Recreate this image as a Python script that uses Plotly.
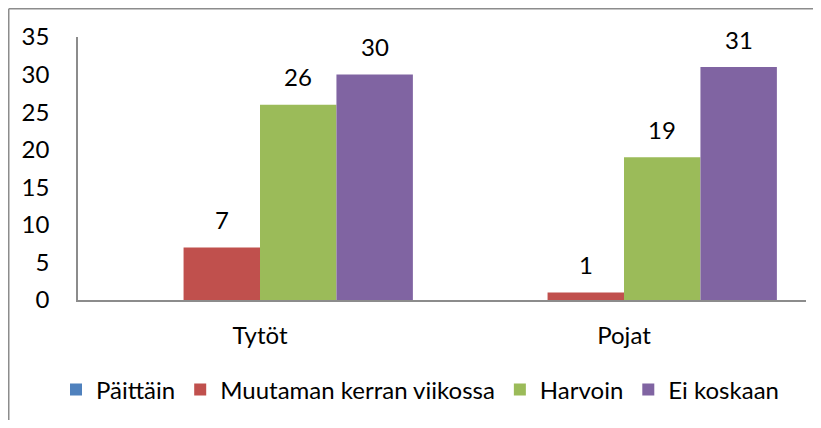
import plotly.graph_objects as go

categories = ["Tytöt", "Pojat"]
series_names = ["Päittäin", "Muutaman kerran viikossa", "Harvoin", "Ei koskaan"]
paittain = [0, 0]
muutaman = [7, 1]
harvoin = [26, 19]
ei_koskaan = [30, 31]
y_ticks = [0, 5, 10, 15, 20, 25, 30, 35]

colors = ["#4F81BD", "#C0504D", "#9BBB59", "#8064A2"]
values = [paittain, muutaman, harvoin, ei_koskaan]
FONT = "Lato, 'Open Sans', sans-serif"
FS = 24

bargap = 0.16
n = len(series_names)
w = (1 - bargap) / n
xpos = list(range(len(categories)))

fig = go.Figure()
annotations = []
for i, (name, vals, col) in enumerate(zip(series_names, values, colors)):
    fig.add_trace(go.Bar(name=name, x=xpos, y=vals, marker=dict(color=col, line=dict(width=0))))
    off = -(1 - bargap) / 2 + (i + 0.5) * w
    for xi, v in zip(xpos, vals):
        if v:
            annotations.append(dict(x=xi + off, y=v, xref="x", yref="y", text=str(v),
                                    showarrow=False, yanchor="middle", yshift=28,
                                    font=dict(size=FS, color="#000000", family=FONT)))

W, H = 805, 412
L, R, T, B = 70, 7, 29, 120
pw, ph = W - L - R, H - T - B
px = lambda p: (p - L) / pw
py = lambda p: (H - B - p) / ph

border = dict(color="#8c8c8c", width=1.5)
shapes = [
    dict(type="line", xref="paper", yref="paper", x0=px(0.75), x1=px(W + 20),
         y0=py(0.75), y1=py(0.75), line=border),
    dict(type="line", xref="paper", yref="paper", x0=px(0.75), x1=px(0.75),
         y0=py(0.75), y1=py(H + 20), line=border),
]

fig.update_layout(
    width=W, height=H,
    margin=dict(l=L, r=R, t=T, b=B),
    paper_bgcolor="white", plot_bgcolor="white",
    barmode="group", bargap=bargap, bargroupgap=0,
    font=dict(family=FONT, size=FS, color="#000000"),
    xaxis=dict(range=[-0.5, len(categories) - 0.5], tickvals=xpos, ticktext=categories,
               showline=True, linecolor="#8c8c8c", linewidth=1.5, showgrid=False,
               zeroline=False, ticks="", ticklabelstandoff=13, tickfont=dict(size=FS)),
    yaxis=dict(range=[0, 35], tickvals=y_ticks, showline=True, linecolor="#8c8c8c",
               linewidth=1.5, showgrid=False, zeroline=False, ticks="",
               ticklabelstandoff=22, tickfont=dict(size=FS)),
    legend=dict(orientation="h", x=px(48), xanchor="left", y=py(382), yanchor="middle",
                font=dict(size=FS), itemsizing="constant", tracegroupgap=0,
                bgcolor="rgba(0,0,0,0)"),
    annotations=annotations,
    shapes=shapes,
    showlegend=True,
)

fig.write_html("out.html")
